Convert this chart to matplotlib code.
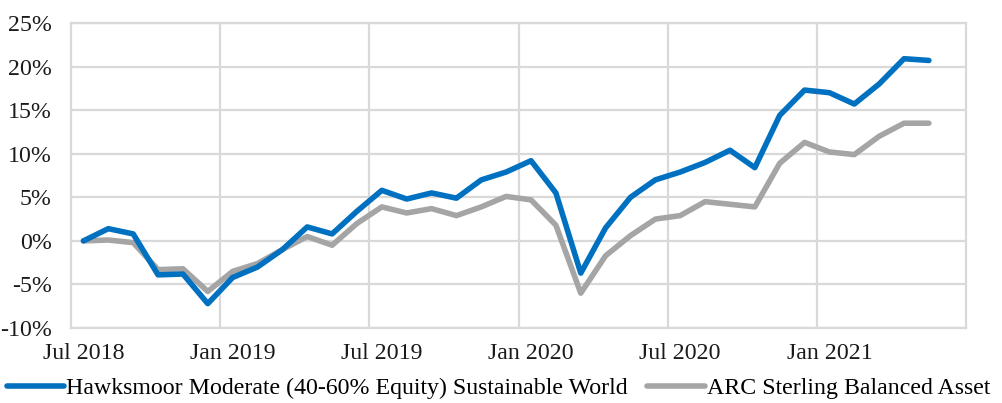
import matplotlib
matplotlib.use("Agg")
import matplotlib.pyplot as plt
import numpy as np

months = ["Jul 2018", "Aug 2018", "Sep 2018", "Oct 2018", "Nov 2018", "Dec 2018",
          "Jan 2019", "Feb 2019", "Mar 2019", "Apr 2019", "May 2019", "Jun 2019",
          "Jul 2019", "Aug 2019", "Sep 2019", "Oct 2019", "Nov 2019", "Dec 2019",
          "Jan 2020", "Feb 2020", "Mar 2020", "Apr 2020", "May 2020", "Jun 2020",
          "Jul 2020", "Aug 2020", "Sep 2020", "Oct 2020", "Nov 2020", "Dec 2020",
          "Jan 2021", "Feb 2021", "Mar 2021", "Apr 2021", "May 2021", "Jun 2021"]

hawksmoor = [0.0, 1.4, 0.8, -3.9, -3.8, -7.2, -4.2, -3.0, -1.0, 1.6, 0.8, 3.4,
             5.8, 4.8, 5.5, 4.9, 7.0, 7.9, 9.2, 5.5, -3.7, 1.5, 5.0, 7.0,
             7.9, 9.0, 10.4, 8.4, 14.4, 17.3, 17.0, 15.7, 18.0, 20.9, 20.7, np.nan]

arc = [0.0, 0.1, -0.2, -3.3, -3.2, -5.8, -3.5, -2.6, -1.0, 0.5, -0.5, 2.0,
       3.9, 3.2, 3.7, 2.9, 3.9, 5.1, 4.7, 1.8, -6.0, -1.7, 0.6, 2.5,
       2.9, 4.5, 4.2, 3.9, 8.9, 11.3, 10.2, 9.9, 12.0, 13.5, 13.5, np.nan]

series_names = ["Hawksmoor Moderate (40-60% Equity) Sustainable World",
                "ARC Sterling Balanced Asset"]
y_ticks = [-10, -5, 0, 5, 10, 15, 20, 25]
y_tick_labels = ["-10%", "-5%", "0%", "5%", "10%", "15%", "20%", "25%"]
x_label_every = 6

plt.rcParams['font.family'] = ['Liberation Serif', 'DejaVu Serif']
fs = 17.2

fig = plt.figure(figsize=(10.03, 4.03), dpi=100)
ax = fig.add_axes([0.0708, 0.186, 0.8925, 0.757])

x = np.arange(len(months))
ax.plot(x, hawksmoor, color="#0070C0", lw=4.0, solid_joinstyle='round',
        solid_capstyle='round', label=series_names[0], zorder=3)
ax.plot(x, arc, color="#A5A5A5", lw=4.0, solid_joinstyle='round',
        solid_capstyle='round', label=series_names[1], zorder=2)

ax.set_xlim(-0.5, len(months) - 0.5)
ax.set_ylim(y_ticks[0], y_ticks[-1])
ax.set_yticks(y_ticks)
ax.set_yticklabels(y_tick_labels, fontsize=fs, color="#1a1a1a")

major = x[::x_label_every]
ax.set_xticks(major)
ax.set_xticklabels([months[i] for i in major], fontsize=fs, color="#1a1a1a")
ax.set_xticks(np.arange(x_label_every - 0.5, len(months) - 1, x_label_every), minor=True)

ax.tick_params(axis='both', which='both', length=0)
ax.tick_params(axis='y', pad=14)
ax.tick_params(axis='x', pad=11)

ax.grid(True, axis='y', which='major', color="#D9D9D9", lw=1.6, zorder=0)
ax.grid(True, axis='x', which='minor', color="#D9D9D9", lw=1.6, zorder=0)
ax.grid(False, axis='x', which='major')
for s in ax.spines.values():
    s.set_color("#D9D9D9")
    s.set_linewidth(1.6)
ax.set_axisbelow(True)

leg = fig.legend(loc='center', bbox_to_anchor=(0.497, 0.037), ncol=2, frameon=False,
                 fontsize=fs, handlelength=2.4, handletextpad=0.1, columnspacing=0.8,
                 borderaxespad=0, borderpad=0)
for h in leg.legend_handles:
    h.set_linewidth(4.0)

fig.savefig("out.png", dpi=100)
